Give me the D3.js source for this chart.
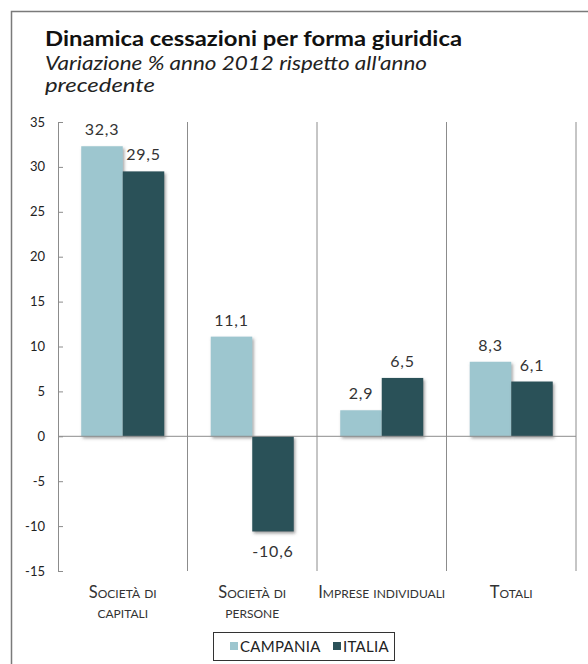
<!DOCTYPE html>
<html>
<head>
<meta charset="utf-8">
<script src="https://cdn.jsdelivr.net/npm/d3@7"></script>
<style>
	body { margin: 0; background: #fff; }
	svg text { font-family: "Century Gothic", Lato, "Open Sans", sans-serif; fill: #222; }
</style>
</head>
<body>
<svg width="588" height="664"></svg>
<script>
	// data
	var categories = ["Società di capitali", "Società di persone", "Imprese individuali", "Totali"];
	var categoryLines = [["Società di", "capitali"], ["Società di", "persone"], ["Imprese individuali"], ["Totali"]];
	var seriesNames = ["CAMPANIA", "ITALIA"];
	var seriesColors = ["#9dc6cf", "#2b5159"];
	var campania = [32.3, 11.1, 2.9, 8.3];
	var italia = [29.5, -10.6, 6.5, 6.1];
	var yTicks = [-15, -10, -5, 0, 5, 10, 15, 20, 25, 30, 35];

	var svg = d3.select("svg");

	var defs = svg.append("defs");
	var shadow = defs.append("filter")
		.attr("id", "shadow")
		.attr("x", "-20%").attr("y", "-20%")
		.attr("width", "150%").attr("height", "150%");
	shadow.append("feDropShadow")
		.attr("dx", 1.5).attr("dy", 2)
		.attr("stdDeviation", 1.5)
		.attr("flood-color", "#555")
		.attr("flood-opacity", 0.55);

	// outer frame (runs off the right edge like the original)
	svg.append("rect")
		.attr("x", 11.5).attr("y", 11.5)
		.attr("width", 620).attr("height", 700)
		.attr("fill", "none")
		.attr("stroke", "#7a7a7a")
		.attr("stroke-width", 1.5);

	svg.append("text")
		.attr("x", 45).attr("y", 46)
		.attr("textLength", 417)
		.attr("lengthAdjust", "spacingAndGlyphs")
		.style("font-size", "21px")
		.style("font-weight", "bold")
		.style("fill", "#111")
		.text("Dinamica cessazioni per forma giuridica");

	svg.append("text")
		.attr("x", 45).attr("y", 70)
		.attr("textLength", 382)
		.attr("lengthAdjust", "spacingAndGlyphs")
		.style("font-size", "19px")
		.style("font-style", "italic")
		.text("Variazione % anno 2012 rispetto all'anno");

	svg.append("text")
		.attr("x", 45).attr("y", 92)
		.attr("textLength", 110)
		.attr("lengthAdjust", "spacingAndGlyphs")
		.style("font-size", "19px")
		.style("font-style", "italic")
		.text("precedente");

	var x = d3.scaleBand()
		.domain(categories)
		.range([58, 576]);

	var xs = d3.scaleBand()
		.domain(seriesNames)
		.range([0, x.bandwidth()])
		.paddingOuter(0.56);

	var y = d3.scaleLinear()
		.domain([-15, 35])
		.range([571, 122]);

	var fmt = function(v) { return d3.format(".1f")(v).replace(".", ",").replace("\u2212", "-"); };

	// category separators
	svg.append("g")
		.selectAll("line")
		.data(categories)
		.enter().append("line")
			.attr("x1", function(d) { return x(d) + x.bandwidth(); })
			.attr("x2", function(d) { return x(d) + x.bandwidth(); })
			.attr("y1", y(35))
			.attr("y2", y(-15))
			.attr("stroke", "#8c8c8c")
			.attr("stroke-width", 1);

	// y axis
	var yAxis = svg.append("g")
		.attr("transform", "translate(58,0)")
		.call(d3.axisRight(y).tickValues(yTicks).tickSize(5).tickFormat(""));
	yAxis.select(".domain").attr("stroke", "#8c8c8c");
	yAxis.selectAll(".tick line").attr("stroke", "#8c8c8c");

	svg.append("g")
		.selectAll("text")
		.data(yTicks)
		.enter().append("text")
			.attr("x", 45)
			.attr("y", function(d) { return y(d) + 4.5; })
			.attr("text-anchor", "end")
			.style("font-size", "13px")
			.text(function(d) { return d; });

	var rows = [];
	categories.forEach(function(c, i) {
		rows.push({ cat: c, s: 0, v: campania[i] });
		rows.push({ cat: c, s: 1, v: italia[i] });
	});

	svg.append("g")
		.selectAll("rect")
		.data(rows)
		.enter().append("rect")
			.attr("x", function(d) { return x(d.cat) + xs(seriesNames[d.s]); })
			.attr("y", function(d) { return y(Math.max(0, d.v)); })
			.attr("width", xs.bandwidth())
			.attr("height", function(d) { return Math.abs(y(d.v) - y(0)); })
			.attr("fill", function(d) { return seriesColors[d.s]; })
			.attr("filter", "url(#shadow)");

	// zero line
	svg.append("line")
		.attr("x1", 58).attr("x2", 576)
		.attr("y1", y(0)).attr("y2", y(0))
		.attr("stroke", "#8c8c8c")
		.attr("stroke-width", 1);

	svg.append("g")
		.selectAll("text")
		.data(rows)
		.enter().append("text")
			.attr("x", function(d) { return x(d.cat) + xs(seriesNames[d.s]) + xs.bandwidth() / 2; })
			.attr("y", function(d) { return d.v >= 0 ? y(d.v) - 11 : y(d.v) + 26; })
			.attr("text-anchor", "middle")
			.style("font-size", "16px")
			.style("letter-spacing", "0.8px")
			.style("fill", "#333")
			.text(function(d) { return fmt(d.v); });

	// category labels in small caps
	var catLabels = svg.append("g")
		.selectAll("text")
		.data(categories)
		.enter().append("text")
			.attr("text-anchor", "middle")
			.attr("x", function(d) { return x(d) + x.bandwidth() / 2; })
			.attr("y", 598)
			.style("font-size", "16.5px")
			.style("font-variant", "small-caps")
			.style("fill", "#333");
	catLabels.selectAll("tspan")
		.data(function(d, i) { return categoryLines[i]; })
		.enter().append("tspan")
			.attr("x", function() { var p = d3.select(this.parentNode).datum(); return x(p) + x.bandwidth() / 2; })
			.attr("dy", function(d, i) { return i ? 20 : 0; })
			.text(function(d) { return d; });

	// legend
	var legend = svg.append("g");
	legend.append("rect")
		.attr("x", 213.5).attr("y", 632.5)
		.attr("width", 181).attr("height", 28)
		.attr("fill", "#fff")
		.attr("stroke", "#333")
		.attr("stroke-width", 1);
	var legendX = [230, 333];
	seriesNames.forEach(function(n, i) {
		legend.append("rect")
			.attr("x", legendX[i]).attr("y", 642)
			.attr("width", 8).attr("height", 8)
			.attr("fill", seriesColors[i]);
		legend.append("text")
			.attr("x", legendX[i] + 10).attr("y", 652)
			.style("font-size", "15px")
			.style("letter-spacing", "0.3px")
			.text(n);
	});
</script>
</body>
</html>
